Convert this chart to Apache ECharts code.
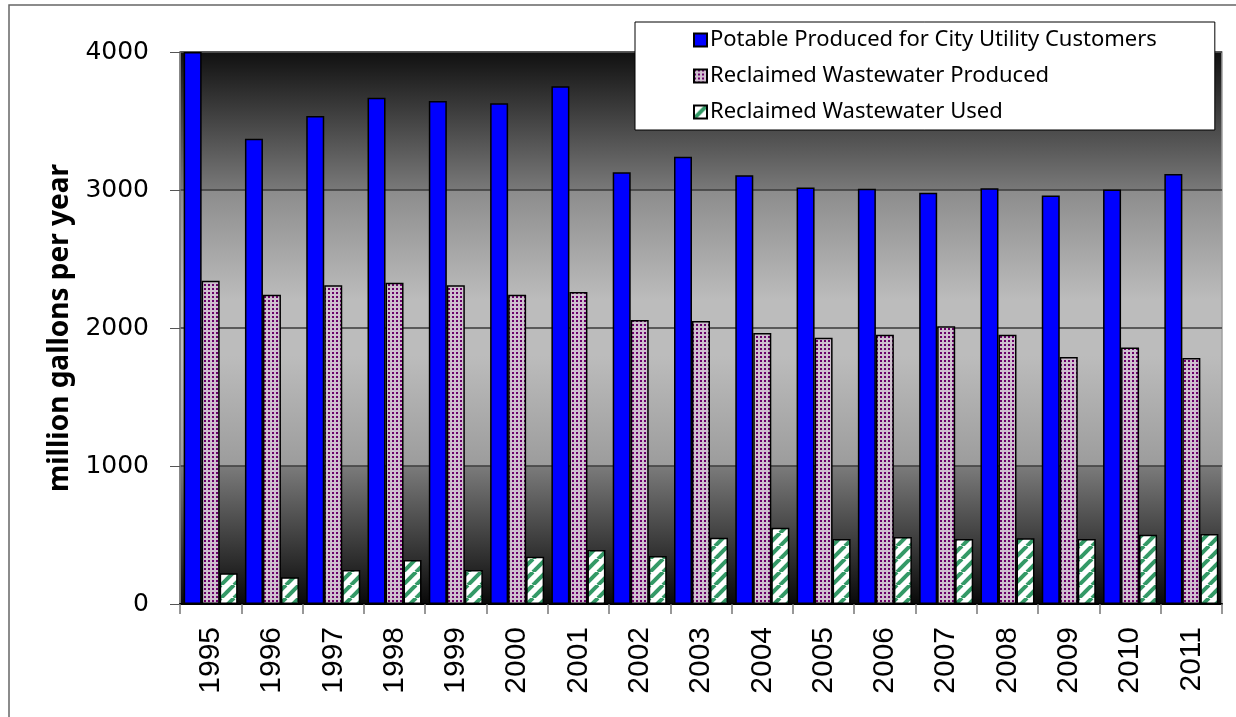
<!DOCTYPE html>
<html>
<head>
<meta charset="utf-8">
<style>
  html, body { margin: 0; padding: 0; background: #fff; }
  #chart_main { width: 1236px; height: 717px; }
</style>
</head>
<body>
<div id="chart_main"></div>
<script src="https://cdn.jsdelivr.net/npm/echarts@6/dist/echarts.min.js"></script>
<script type="text/javascript">
// values (million gallons per year)
var years = ['1995', '1996', '1997', '1998', '1999', '2000', '2001', '2002', '2003',
  '2004', '2005', '2006', '2007', '2008', '2009', '2010', '2011'];
var potable = [4000, 3372, 3536, 3669, 3645, 3628, 3751, 3128, 3241,
  3106, 3019, 3009, 2980, 3012, 2961, 3004, 3116];
var reclaimedProduced = [2343, 2241, 2309, 2328, 2309, 2241, 2261, 2058, 2051,
  1964, 1930, 1951, 2012, 1951, 1790, 1858, 1783];
var reclaimedUsed = [222, 193, 246, 319, 246, 343, 391, 348, 480,
  553, 471, 486, 471, 476, 471, 502, 507];
var yTicks = { min: 0, max: 4000, interval: 1000 };

// pattern fills (dots and diagonal stripes)
function dotPattern() {
  var c = document.createElement('canvas');
  c.width = 4; c.height = 4;
  var g = c.getContext('2d');
  g.fillStyle = '#cfc0cf';
  g.fillRect(0, 0, 4, 4);
  g.fillStyle = '#6a006a';
  g.fillRect(0, 0, 2, 2);
  return c;
}
function stripePattern() {
  var s = 13;
  var c = document.createElement('canvas');
  c.width = s; c.height = s;
  var g = c.getContext('2d');
  g.fillStyle = '#ffffff';
  g.fillRect(0, 0, s, s);
  g.strokeStyle = '#339966';
  g.lineWidth = 4;
  [-s, 0, s].forEach(function (o) {
    g.beginPath();
    g.moveTo(o, s);
    g.lineTo(o + s, 0);
    g.stroke();
  });
  return c;
}

var myChart = echarts.init(document.getElementById('chart_main'));

var bgGradient = {
  type: 'linear', x: 0, y: 0, x2: 0, y2: 1,
  colorStops: [
    { offset: 0, color: '#101010' },
    { offset: 0.249, color: '#787878' },
    { offset: 0.251, color: '#8c8c8c' },
    { offset: 0.45, color: '#bcbcbc' },
    { offset: 0.55, color: '#bcbcbc' },
    { offset: 0.749, color: '#9c9c9c' },
    { offset: 0.751, color: '#7a7a7a' },
    { offset: 1, color: '#080808' }
  ]
};

var barBorder = { borderColor: '#000', borderWidth: 1.5 };

var option = {
  animation: false,
  backgroundColor: '#fff',
  textStyle: { fontFamily: 'Liberation Sans' },
  graphic: [{
    type: 'rect',
    shape: { x: 9, y: 5, width: 1300, height: 800 },
    style: { fill: 'none', stroke: '#666', lineWidth: 1.5 },
    z: -10
  }],
  grid: {
    left: 180, right: 14, top: 52, bottom: 113,
    outerBoundsMode: 'none',
    show: true,
    backgroundColor: bgGradient,
    borderColor: '#a0a0a0',
    borderWidth: 1.5
  },
  legend: {
    orient: 'vertical',
    left: 635, top: 22,
    padding: [5, 58, 5, 58],
    backgroundColor: '#fff',
    borderColor: '#000',
    borderWidth: 1,
    borderRadius: 0,
    itemWidth: 13, itemHeight: 13,
    itemGap: 10,
    icon: 'rect',
    textStyle: { fontFamily: 'Noto Sans', fontSize: 22, lineHeight: 26, color: '#000', padding: [0, 0, 0, -2] },
    data: ['Potable Produced for City Utility Customers',
      'Reclaimed Wastewater Produced', 'Reclaimed Wastewater Used']
  },
  xAxis: {
    type: 'category',
    data: years,
    axisLine: { lineStyle: { color: '#000', width: 2 } },
    axisTick: { show: true, length: 10, lineStyle: { color: '#777', width: 1.5 } },
    axisLabel: { rotate: 90, margin: 23, fontSize: 30, color: '#000', fontFamily: 'Liberation Sans' }
  },
  yAxis: {
    type: 'value',
    min: yTicks.min, max: yTicks.max, interval: yTicks.interval,
    name: 'million gallons per year',
    nameLocation: 'middle',
    nameGap: 106,
    nameTextStyle: { fontFamily: '"Liberation Sans Narrow", "Noto Sans"', fontWeight: 'bold', fontSize: 28, color: '#000' },
    axisLine: { show: true, lineStyle: { color: '#777', width: 1.5 } },
    axisTick: { show: true, length: 10, lineStyle: { color: '#555' } },
    axisLabel: { margin: 31, fontSize: 25, color: '#000', fontFamily: 'DejaVu Sans', formatter: function (v) { return String(v); } },
    splitLine: { lineStyle: { color: '#3a3a3a', width: 1.5 } }
  },
  series: [{
    name: 'Potable Produced for City Utility Customers',
    type: 'bar',
    data: potable,
    barWidth: 18,
    barGap: '0%',
    itemStyle: Object.assign({ color: '#0000ff' }, barBorder)
  }, {
    name: 'Reclaimed Wastewater Produced',
    type: 'bar',
    data: reclaimedProduced,
    barWidth: 18,
    barGap: '0%',
    itemStyle: Object.assign({ color: { image: dotPattern(), repeat: 'repeat' } }, barBorder)
  }, {
    name: 'Reclaimed Wastewater Used',
    type: 'bar',
    data: reclaimedUsed,
    barWidth: 18,
    barGap: '0%',
    itemStyle: Object.assign({ color: { image: stripePattern(), repeat: 'repeat' } }, barBorder)
  }]
};
myChart.setOption(option);
</script>
</body>
</html>
